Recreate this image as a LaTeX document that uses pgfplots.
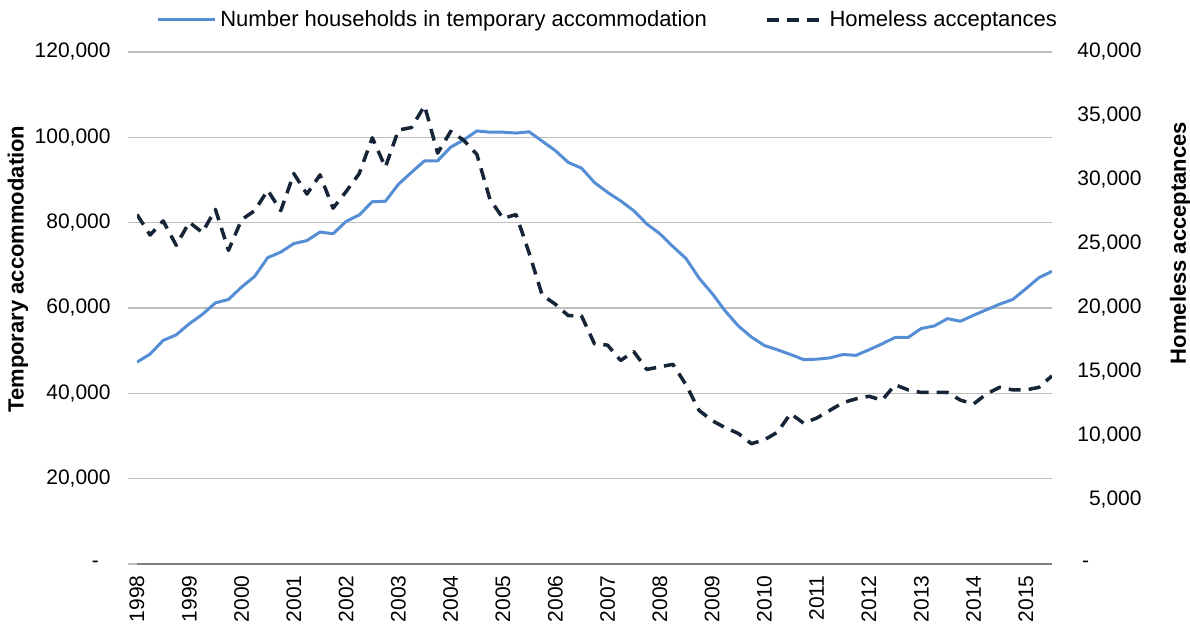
\documentclass[border=0pt]{standalone}
\usepackage{pgfplots}
\pgfplotsset{compat=1.18}
\usepackage{fontspec}
\setmainfont{Liberation Sans}
\definecolor{tablue}{RGB}{85,142,213}
\definecolor{hanavy}{RGB}{22,36,56}
\definecolor{gridgray}{RGB}{190,190,190}
\definecolor{axgray}{RGB}{128,128,128}
\begin{document}
\begin{tikzpicture}
\useasboundingbox (0,0) rectangle (595pt,313pt);
\begin{axis}[
  at={(68.5pt,31pt)}, anchor=south west,
  scale only axis, width=457.5pt, height=256pt,
  xmin=0, xmax=70, ymin=0, ymax=120000,
  scaled y ticks=false, scaled x ticks=false,
  axis x line*=bottom, axis y line*=left,
  y axis line style={draw=none},
  x axis line style={axgray, line width=0.8pt},
  xtick={0,4,8,12,16,20,24,28,32,36,40,44,48,52,56,60,64,68},
  xticklabels={1998,1999,2000,2001,2002,2003,2004,2005,2006,2007,2008,2009,2010,2011,2012,2013,2014,2015},
  xtick style={draw=none},
  xticklabel style={rotate=90, anchor=east, inner sep=0pt, font=\fontsize{10.5}{12}\selectfont},
  xticklabel shift=1pt,
  ytick={0,20000,40000,60000,80000,100000,120000},
  yticklabels={{-\hphantom{0}},{20,000},{40,000},{60,000},{80,000},{100,000},{120,000}},
  ytick style={gridgray, line width=0.75pt},
  tick align=outside, major tick length=4.5pt,
  yticklabel style={anchor=east, inner sep=0pt, font=\fontsize{10.5}{12}\selectfont},
  yticklabel shift=8.5pt,
  ymajorgrids, grid style={gridgray, line width=0.75pt},
  ylabel={Temporary accommodation},
  ylabel style={at={(axis description cs:-0.13,0.576)}, anchor=center, rotate=0, font=\fontsize{11}{13}\selectfont\bfseries},
  legend columns=2,
  legend style={at={(axis description cs:0.5155,1.0625)}, anchor=center, draw=none, fill=none,
    font=\fontsize{11}{13}\selectfont, inner sep=0pt,
    /tikz/every even column/.append style={column sep=27pt},
    nodes={inner sep=2pt}},
  legend image code/.code={\draw[#1] (0pt,0pt) -- (28.5pt,0pt);},
]
\addplot[tablue, line width=1.5pt, line join=round] coordinates {
(0,47300) (1,49200) (2,52400) (3,53700) (4,56300) (5,58500) (6,61200) (7,62000)
(8,64900) (9,67400) (10,71800) (11,73100) (12,75100) (13,75800) (14,77800) (15,77400)
(16,80300) (17,81800) (18,84900) (19,85000) (20,89000) (21,91800) (22,94500) (23,94500)
(24,97700) (25,99400) (26,101500) (27,101200) (28,101200) (29,101000) (30,101300) (31,99100)
(32,96900) (33,94100) (34,92800) (35,89400) (36,87100) (37,85100) (38,82800) (39,79700)
(40,77400) (41,74400) (42,71600) (43,67000) (44,63400) (45,59300) (46,55800) (47,53200)
(48,51200) (49,50200) (50,49100) (51,47900) (52,48000) (53,48300) (54,49100) (55,48900)
(56,50200) (57,51600) (58,53100) (59,53100) (60,55200) (61,55800) (62,57500) (63,56900)
(64,58300) (65,59600) (66,60900) (67,62000) (68,64500) (69,67100) (70,68600)
};
\addlegendentry{Number households in temporary accommodation}
\addlegendimage{hanavy, line width=1.75pt, dash pattern=on 6pt off 4pt}
\addlegendentry{Homeless acceptances}
\end{axis}
\begin{axis}[
  at={(68.5pt,31pt)}, anchor=south west,
  scale only axis, width=457.5pt, height=256pt,
  xmin=0, xmax=70, ymin=0, ymax=40000,
  scaled y ticks=false,
  axis x line=none, axis y line*=right,
  y axis line style={draw=none},
  ytick={0,5000,10000,15000,20000,25000,30000,35000,40000},
  yticklabels={{-\hphantom{0,000}},{5,000},{10,000},{15,000},{20,000},{25,000},{30,000},{35,000},{40,000}},
  ytick style={draw=none},
  yticklabel style={anchor=east, inner sep=0pt, font=\fontsize{10.5}{12}\selectfont},
  yticklabel shift=45pt,
  ylabel={Homeless acceptances},
  ylabel style={at={(axis description cs:1.14,0.627)}, anchor=center, rotate=0, font=\fontsize{11}{13}\selectfont\bfseries},
]
\addplot[hanavy, line width=1.75pt, dash pattern=on 6pt off 4pt, line join=round] coordinates {
(0,27300) (1,25700) (2,26800) (3,24900) (4,26700) (5,25900) (6,27700) (7,24500)
(8,26900) (9,27600) (10,29200) (11,27600) (12,30500) (13,28900) (14,30400) (15,27800)
(16,29100) (17,30500) (18,33300) (19,31000) (20,33900) (21,34100) (22,35800) (23,32100)
(24,33800) (25,33100) (26,32000) (27,28500) (28,27000) (29,27300) (30,24300) (31,21000)
(32,20300) (33,19400) (34,19400) (35,17200) (36,17100) (37,15900) (38,16600) (39,15200)
(40,15400) (41,15600) (42,14000) (43,12000) (44,11200) (45,10650) (46,10200) (47,9400)
(48,9700) (49,10300) (50,11750) (51,11000) (52,11400) (53,12000) (54,12600) (55,12900)
(56,13100) (57,12800) (58,14000) (59,13600) (60,13400) (61,13400) (62,13400) (63,12800)
(64,12500) (65,13300) (66,13800) (67,13600) (68,13600) (69,13800) (70,14700)
};
\end{axis}
\end{tikzpicture}
\end{document}
